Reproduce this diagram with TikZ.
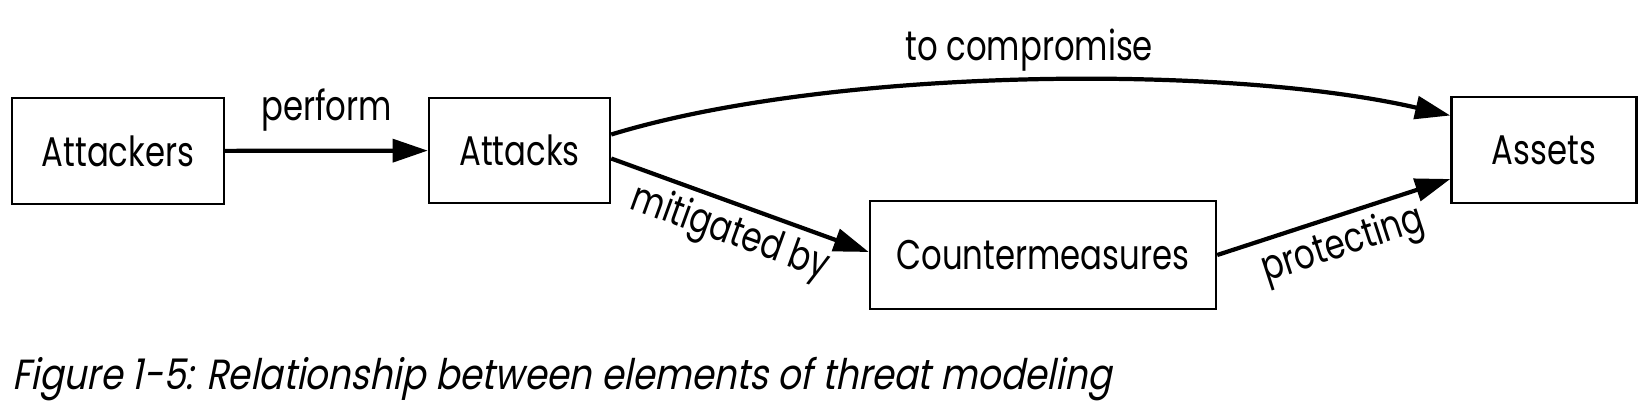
\documentclass[tikz,border=0pt]{standalone}
\usepackage{fontspec}
\setmainfont[FakeStretch=0.78]{Poppins}
\newfontfamily\capfont[FakeStretch=0.85,FakeSlant=0.2]{Poppins}
\usetikzlibrary{arrows.meta}

\begin{document}
\begin{tikzpicture} [
	font=\fontsize{11.8}{13}\selectfont,
	block/.style={draw, line width=0.7pt, inner sep=0pt},
	link/.style={line width=1.2pt, -{Triangle[length=10pt,width=6.5pt]}},
	tag/.style={inner sep=2pt}
]

% page frame
\useasboundingbox (0,0) rectangle (16.48,4.12);

% boxes
\node [block, minimum width=2.12cm, minimum height=1.06cm] (attackers) at (1.18,2.61) {Attackers};
\node [block, minimum width=1.81cm, minimum height=1.05cm] (attacks) at (5.195,2.615) {Attacks};
\node [block, minimum width=1.85cm, minimum height=1.06cm] (assets) at (15.44,2.62) {Assets};
\node [block, minimum width=3.46cm, minimum height=1.08cm] (counter) at (10.43,1.57) {Countermeasures};

% arrows
\draw [link] (attackers) -- node[tag, above=0.1cm] {perform} (attacks);

\draw [link] ([yshift=0.16cm]attacks.east) to [out=17, in=167, looseness=0.7]
		node[tag, pos=0.5, above=0.0cm] {to compromise} ([yshift=0.345cm]assets.west);

\draw [link] ([yshift=-0.08cm]attacks.east) --
		node[tag, sloped, below] {mitigated by} ([yshift=0.03cm]counter.west);

\draw [link] (counter.east) --
		node[tag, sloped, below] {protecting} ([yshift=-0.29cm]assets.west);

% caption
\node [anchor=base west, inner sep=0pt, font=\capfont\fontsize{12}{14}\selectfont] (caption) at (0.12,0.23)
		{Figure 1-5: Relationship between elements of threat modeling};

\end{tikzpicture}
\end{document}
